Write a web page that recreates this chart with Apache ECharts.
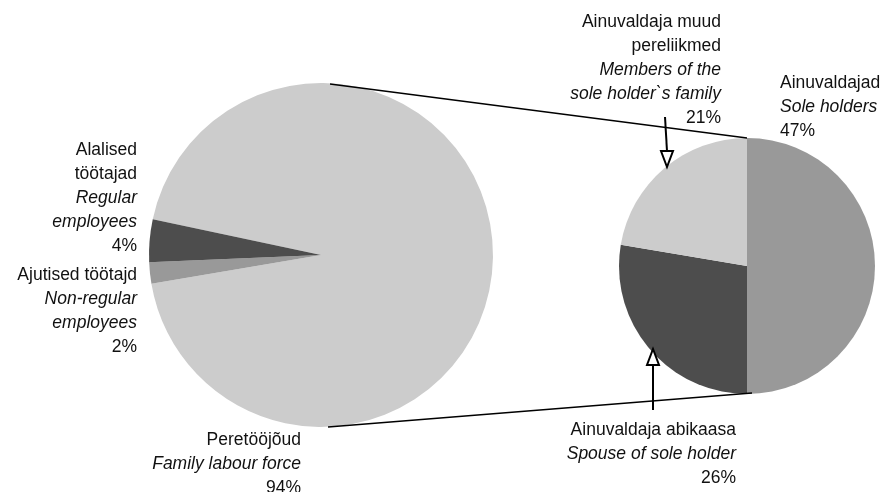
<!DOCTYPE html>
<html>
<head>
<meta charset="utf-8">
<script src="https://cdn.jsdelivr.net/npm/echarts@6/dist/echarts.min.js"></script>
<style>
  html, body { margin: 0; padding: 0; background: #fff; }
  #chart { width: 887px; height: 492px; }
</style>
</head>
<body>
<div id="chart"></div>
<script>
// main pie: total labour force
var mainNames = ['Peretööjõud', 'Ajutised töötajd', 'Alalised\ntöötajad'];
var mainNamesEn = ['Family labour force', 'Non-regular\nemployees', 'Regular\nemployees'];
var mainValues = [94, 2, 4];
var mainColors = ['#cccccc', '#999999', '#4d4d4d'];

// secondary pie: family labour force breakdown (share of total)
var subNames = ['Ainuvaldajad', 'Ainuvaldaja abikaasa', 'Ainuvaldaja muud\npereliikmed'];
var subNamesEn = ['Sole holders', 'Spouse of sole holder', 'Members of the\nsole holder`s family'];
var subValues = [47, 26, 21];
var subColors = ['#999999', '#4d4d4d', '#cccccc'];

var leftC = [321, 255], leftR = 172;
var rightC = [747, 266], rightR = 128;

// label anchor positions [x, y, align]
var mainLabelPos = [[301, 428, 'right'], [137, 263, 'right'], [137, 138, 'right']];
var subLabelPos = [[780, 71, 'left'], [736, 418, 'right'], [721, 10, 'right']];

function buildData(names, namesEn, values, colors) {
  return values.map(function (v, i) {
    return { name: names[i], value: v, en: namesEn[i], itemStyle: { color: colors[i] } };
  });
}

function labelText(p) {
  var en = p.data.en.split('\n').map(function (s) { return '{e|' + s + '}'; }).join('\n');
  var nm = p.name.split('\n').map(function (s) { return '{n|' + s + '}'; }).join('\n');
  return nm + '\n' + en + '\n{n|' + p.value + '%}';
}

var rich = {
  n: { fontFamily: 'Liberation Sans', fontSize: 17.5, lineHeight: 24, color: '#111' },
  e: { fontFamily: 'Liberation Sans', fontSize: 17.5, lineHeight: 24, color: '#111', fontStyle: 'italic' }
};

function layoutFor(posList) {
  return function (params) {
    var p = posList[params.dataIndex];
    return { x: p[0], y: p[1], align: p[2], verticalAlign: 'top' };
  };
}

function arrow(x1, y1, x2, y2, dir) {
  // shaft from (x1,y1) to base of the head, head pointing toward (x2,y2)
  var h = 16 * dir, w = 6;
  return [
    { type: 'line', shape: { x1: x1, y1: y1, x2: x2, y2: y2 - h }, style: { stroke: '#000', lineWidth: 2 }, z: 10 },
    { type: 'polygon', shape: { points: [[x2 - w, y2 - h], [x2 + w, y2 - h], [x2, y2]] },
      style: { fill: '#fff', stroke: '#000', lineWidth: 2 }, z: 10 }
  ];
}

var chart = echarts.init(document.getElementById('chart'), null, { renderer: 'canvas' });

var graphics = [
  { type: 'line', shape: { x1: leftC[0] + 9, y1: leftC[1] - leftR + 1, x2: rightC[0], y2: rightC[1] - rightR },
    style: { stroke: '#000', lineWidth: 1.3 }, z: 5 },
  { type: 'line', shape: { x1: leftC[0] + 7, y1: leftC[1] + leftR, x2: rightC[0] + 5, y2: rightC[1] + rightR - 1 },
    style: { stroke: '#000', lineWidth: 1.3 }, z: 5 }
].concat(arrow(665, 117, 667, 167, 1)).concat(arrow(653, 410, 653, 349, -1));

var labelOpt = { show: true, formatter: labelText, rich: rich, overflow: 'none', edgeDistance: 0 };

chart.setOption({
  animation: false,
  backgroundColor: '#fff',
  graphic: graphics,
  series: [
    {
      type: 'pie',
      center: leftC,
      radius: leftR,
      startAngle: 168,
      clockwise: true,
      data: buildData(mainNames, mainNamesEn, mainValues, mainColors),
      label: labelOpt,
      labelLine: { show: false },
      labelLayout: layoutFor(mainLabelPos),
      emphasis: { disabled: true }
    },
    {
      type: 'pie',
      center: rightC,
      radius: rightR,
      startAngle: 90,
      clockwise: true,
      data: buildData(subNames, subNamesEn, subValues, subColors),
      label: labelOpt,
      labelLine: { show: false },
      labelLayout: layoutFor(subLabelPos),
      emphasis: { disabled: true }
    }
  ]
});
</script>
</body>
</html>
